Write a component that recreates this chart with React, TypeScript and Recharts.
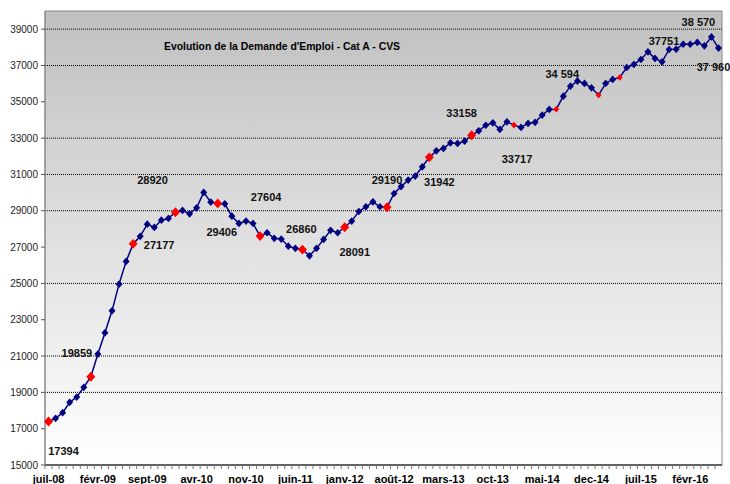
import React from 'react';
import {
  ComposedChart,
  Line,
  XAxis,
  YAxis,
  ReferenceLine,
  ReferenceArea,
  LabelList,
} from 'recharts';

// monthly values, juil-08 .. juin-16
const demand = [
  17394, 17570, 17880, 18450, 18740, 19280, 19859, 21110, 22280, 23490, 24960, 26210,
  27177, 27590, 28260, 28080, 28480, 28580, 28920, 29020, 28830, 29160, 30010, 29480,
  29406, 29380, 28700, 28300, 28430, 28300, 27604, 27790, 27480, 27440, 27050, 26930,
  26860, 26520, 26930, 27420, 27920, 27790, 28091, 28430, 28960, 29220, 29490, 29220,
  29190, 29950, 30330, 30690, 30910, 31420, 31942, 32300, 32430, 32740, 32710, 32830,
  33158, 33400, 33710, 33840, 33480, 33900, 33717, 33590, 33810, 33870, 34270, 34580,
  34594, 35310, 35860, 36140, 36010, 35770, 35370, 36010, 36230, 36340, 36890, 37060,
  37330, 37751, 37390, 37200, 37880, 37900, 38170, 38170, 38270, 38080, 38570, 37960,
];

const monthNames = ['janv', 'févr', 'mars', 'avr', 'mai', 'juin', 'juil', 'août', 'sept', 'oct', 'nov', 'dec'];
const firstYear = 2008;
const firstMonth = 6;

const months = demand.map((_, i) => {
  const m = firstMonth + i;
  return `${monthNames[m % 12]}-${String(firstYear + Math.floor(m / 12)).slice(2)}`;
});

const yTicks = [15000, 17000, 19000, 21000, 23000, 25000, 27000, 29000, 31000, 33000, 35000, 37000, 39000];
const gridValues = [39000, 37000, 33000, 31000, 29000, 25000, 21000, 19000];

const bigRed = [0, 6, 12, 18, 24, 30, 36, 42, 48, 54, 60];
const smallRed = [66, 72, 78, 81];

const labelIdx = [0, 6, 12, 18, 24, 30, 36, 42, 48, 54, 60, 66, 72, 85, 94, 95];
const labelText = ['17394', '19859', '27177', '28920', '29406', '27604', '26860', '28091', '29190', '31942', '33158', '33717', '34 594', '37751', '38 570', '37 960'];

const title = "Evolution de la Demande d'Emploi - Cat A - CVS";

// label offsets from the point, px
const labelOffset: Record<number, [number, number]> = {
  0: [15, 30], 6: [-14, -24], 12: [26, 1], 18: [-23, -32], 24: [4, 29], 30: [6, -39],
  36: [-1, -20], 42: [10, 25], 48: [0, -27], 54: [10, 25], 60: [-10, -22], 66: [3, 34],
  72: [6, -35], 85: [16, -11], 94: [-13, -15], 95: [-5, 19],
};

const data = months.map((month, i) => ({ month, v: demand[i] }));

const W = 730;
const H = 484;
const LEFT = 45;
const RIGHT = 8;
const BAND = (W - LEFT - RIGHT) / demand.length;
const FONT = '"Liberation Sans", Arial, sans-serif';

const Diamond = ({ cx, cy, r, fill }: { cx: number; cy: number; r: number; fill: string }) => (
  <path d={`M${cx},${cy - r * 1.1}L${cx + r},${cy}L${cx},${cy + r * 1.1}L${cx - r},${cy}Z`} fill={fill} />
);

const renderDot = (props: any) => {
  const { cx, cy, index } = props;
  if (cx == null || cy == null) return <g key={`d${index}`} />;
  let fill = '#000080';
  let r = 3.5;
  if (bigRed.includes(index)) {
    fill = '#ff0000';
    r = 4.5;
  } else if (smallRed.includes(index)) {
    fill = '#ff0000';
    r = 3;
  }
  return <Diamond key={`d${index}`} cx={cx} cy={cy} r={r} fill={fill} />;
};

const renderLabel = (props: any) => {
  const { x, y, index } = props;
  const k = labelIdx.indexOf(index);
  if (k < 0) return null;
  const [dx, dy] = labelOffset[index];
  return (
    <text
      key={`l${index}`}
      x={x + dx}
      y={y + dy}
      dy="0.35em"
      textAnchor="middle"
      fontFamily={FONT}
      fontSize={11}
      fontWeight="bold"
      fill="#111"
    >
      {labelText[k]}
    </text>
  );
};

const MonthTick = (props: any) => {
  const { x, y, index, payload } = props;
  return (
    <g>
      <line x1={x - BAND / 2} x2={x - BAND / 2} y1={y} y2={y + 4} stroke="#777" />
      {index % 7 === 0 && (
        <text x={x} y={y + 18} textAnchor="middle" fontFamily={FONT} fontSize={11} fontWeight="bold" fill="#000">
          {payload.value}
        </text>
      )}
    </g>
  );
};

export default function App() {
  return (
    <div style={{ position: 'absolute', left: 0, top: 0, width: W, height: H, background: '#fff' }}>
      <ComposedChart width={W} height={H} data={data} margin={{ top: 11, right: RIGHT, bottom: 0, left: 0 }}>
        <defs>
          <linearGradient id="bg" x1="0" y1="0" x2="0" y2="1">
            <stop offset="0%" stopColor="#c0c0c0" />
            <stop offset="100%" stopColor="#ffffff" />
          </linearGradient>
        </defs>
        <ReferenceArea y1={15000} y2={40000} fill="url(#bg)" fillOpacity={1} stroke="#888" strokeWidth={1} />
        {gridValues.map((g) => (
          <ReferenceLine key={g} y={g} stroke="#000" strokeDasharray="1 1" strokeWidth={1} />
        ))}
        <XAxis
          dataKey="month"
          scale="band"
          interval={0}
          height={19}
          tickSize={0}
          tickMargin={0}
          tickLine={false}
          axisLine={{ stroke: '#000' }}
          tick={<MonthTick />}
        />
        <YAxis
          width={LEFT}
          domain={[15000, 40000]}
          ticks={yTicks}
          interval={0}
          tickSize={4}
          tickMargin={3}
          axisLine={{ stroke: '#888' }}
          tickLine={{ stroke: '#555' }}
          tick={{ fontSize: 10, fontFamily: FONT, fill: '#222' }}
        />
        <Line
          dataKey="v"
          stroke="#000080"
          strokeWidth={1.5}
          dot={renderDot}
          activeDot={false}
          isAnimationActive={false}
        >
          <LabelList dataKey="v" content={renderLabel} />
        </Line>
      </ComposedChart>
      <svg width={W} height={H} style={{ position: 'absolute', left: 0, top: 0, pointerEvents: 'none' }}>
        <text
          x={282}
          y={46}
          dy="0.35em"
          textAnchor="middle"
          fontFamily={FONT}
          fontSize={11}
          fontWeight="bold"
          fill="#000"
          textLength={236}
          lengthAdjust="spacingAndGlyphs"
        >
          {title}
        </text>
      </svg>
    </div>
  );
}
